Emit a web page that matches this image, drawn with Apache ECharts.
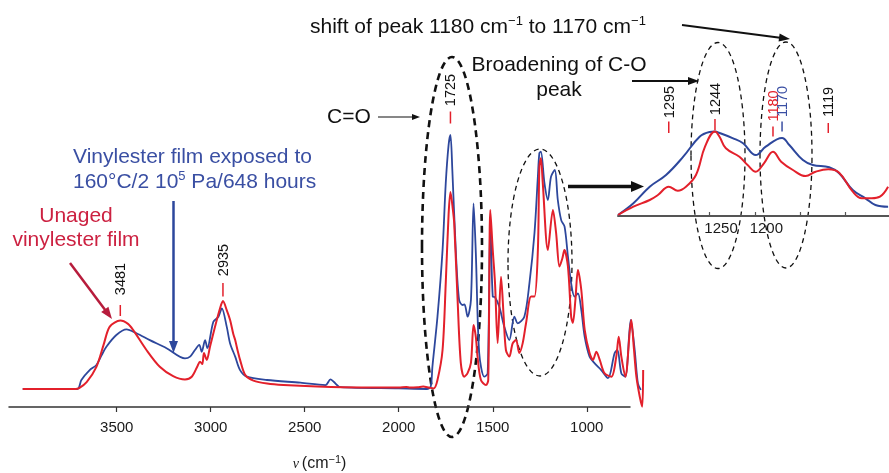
<!DOCTYPE html>
<html>
<head>
<meta charset="utf-8">
<title>FTIR spectra of vinylester films</title>
<script src="https://cdn.jsdelivr.net/npm/echarts@6/dist/echarts.min.js"></script>
<style>
  html, body { margin: 0; padding: 0; background: #ffffff; }
  #chart { width: 889px; height: 473px; }
</style>
</head>
<body>
<div id="chart"></div>
<script>
// ---- Spectrum data (wavenumber in cm-1, absorbance in arbitrary units) ----
const agedWavenumbers = [4000, 3710, 3688, 3644, 3608, 3580, 3555, 3502, 3448, 3395, 3324, 3235, 3137, 3110, 3084, 3061, 3048, 3030, 3018, 2986, 2959, 2941, 2915, 2897, 2870, 2844, 2808, 2701, 2523, 2390, 2363, 2346, 2310, 2000, 1850, 1830, 1821, 1794, 1767, 1750, 1735, 1725, 1715, 1696, 1679, 1661, 1650, 1634, 1616, 1602, 1590, 1572, 1545, 1527, 1513, 1500, 1488, 1465, 1439, 1412, 1385, 1367, 1332, 1305, 1278, 1260, 1252, 1244, 1225, 1207, 1190, 1170, 1154, 1136, 1118, 1100, 1083, 1065, 1047, 1029, 1011, 985, 959, 923, 887, 852, 837, 816, 795, 766, 745, 728, 712];
const agedAbsorbance = [0.060, 0.060, 0.090, 0.123, 0.140, 0.173, 0.201, 0.240, 0.259, 0.246, 0.223, 0.196, 0.162, 0.168, 0.190, 0.207, 0.184, 0.223, 0.196, 0.284, 0.301, 0.329, 0.268, 0.212, 0.168, 0.123, 0.101, 0.090, 0.081, 0.073, 0.092, 0.084, 0.066, 0.062, 0.060, 0.068, 0.134, 0.301, 0.523, 0.746, 0.873, 0.907, 0.790, 0.513, 0.357, 0.340, 0.342, 0.301, 0.357, 0.679, 0.513, 0.180, 0.101, 0.112, 0.623, 0.368, 0.366, 0.334, 0.268, 0.223, 0.301, 0.279, 0.301, 0.412, 0.580, 0.768, 0.846, 0.851, 0.746, 0.690, 0.768, 0.790, 0.690, 0.623, 0.601, 0.501, 0.412, 0.368, 0.379, 0.323, 0.234, 0.168, 0.146, 0.123, 0.096, 0.179, 0.190, 0.112, 0.101, 0.290, 0.190, 0.079, 0.057];

const unagedWavenumbers = [4000, 3720, 3700, 3660, 3608, 3570, 3537, 3481, 3440, 3413, 3342, 3271, 3200, 3137, 3101, 3070, 3057, 3045, 3036, 3021, 3004, 2977, 2950, 2935, 2915, 2897, 2880, 2870, 2855, 2844, 2817, 2773, 2700, 2613, 2434, 2200, 2000, 1960, 1940, 1900, 1870, 1840, 1814, 1794, 1767, 1750, 1735, 1725, 1712, 1705, 1687, 1670, 1652, 1634, 1616, 1602, 1590, 1581, 1563, 1536, 1524, 1513, 1500, 1488, 1474, 1456, 1442, 1430, 1412, 1394, 1376, 1359, 1341, 1323, 1296, 1278, 1260, 1252, 1244, 1234, 1207, 1180, 1163, 1145, 1130, 1119, 1100, 1083, 1074, 1060, 1047, 1029, 1011, 985, 967, 949, 931, 905, 869, 843, 830, 816, 795, 770, 763, 750, 736, 718, 705, 700];
const unagedAbsorbance = [0.060, 0.060, 0.063, 0.083, 0.134, 0.207, 0.268, 0.288, 0.277, 0.257, 0.190, 0.134, 0.103, 0.092, 0.101, 0.137, 0.151, 0.143, 0.180, 0.157, 0.201, 0.268, 0.330, 0.353, 0.323, 0.290, 0.243, 0.223, 0.183, 0.157, 0.107, 0.088, 0.078, 0.073, 0.068, 0.065, 0.065, 0.067, 0.065, 0.066, 0.068, 0.065, 0.062, 0.090, 0.190, 0.413, 0.640, 0.717, 0.657, 0.613, 0.357, 0.147, 0.101, 0.113, 0.147, 0.273, 0.234, 0.168, 0.090, 0.073, 0.090, 0.657, 0.523, 0.413, 0.213, 0.434, 0.301, 0.190, 0.168, 0.212, 0.223, 0.180, 0.212, 0.279, 0.368, 0.368, 0.523, 0.801, 0.829, 0.747, 0.523, 0.657, 0.580, 0.468, 0.495, 0.523, 0.468, 0.301, 0.280, 0.360, 0.457, 0.390, 0.257, 0.180, 0.157, 0.184, 0.157, 0.112, 0.101, 0.168, 0.234, 0.168, 0.101, 0.260, 0.290, 0.200, 0.101, 0.034, 0.001, 0.123];

// Expanded C-O stretching region (baseline-shifted)
const insetAgedWavenumbers = [1351, 1334, 1316, 1298, 1279, 1261, 1250, 1244, 1239, 1224, 1213, 1199, 1188, 1170, 1162, 1147, 1136, 1118, 1107, 1092, 1078, 1067, 1053];
const insetAgedAbsorbance = [0.010, 0.127, 0.293, 0.410, 0.593, 0.793, 0.840, 0.845, 0.830, 0.777, 0.727, 0.610, 0.693, 0.780, 0.710, 0.560, 0.510, 0.487, 0.427, 0.260, 0.177, 0.110, 0.093];
const insetUnagedWavenumbers = [1351, 1334, 1316, 1307, 1295, 1285, 1276, 1265, 1255, 1244, 1239, 1232, 1217, 1208, 1199, 1190, 1180, 1171, 1158, 1144, 1133, 1119, 1107, 1092, 1082, 1071, 1062, 1053];
const insetUnagedAbsorbance = [0.010, 0.093, 0.160, 0.210, 0.293, 0.253, 0.293, 0.410, 0.693, 0.845, 0.793, 0.677, 0.593, 0.510, 0.443, 0.527, 0.643, 0.543, 0.460, 0.400, 0.443, 0.467, 0.433, 0.243, 0.177, 0.177, 0.193, 0.293];

// Axis tick values
const mainTicks = [3500, 3000, 2500, 2000, 1500, 1000];
const insetTicks = [1250, 1200, 1150, 1100];
const insetTickLabels = [1250, 1200];

// Assigned band positions
const mainPeaks = [3481, 2935, 1725];
const insetPeaks = [1295, 1244, 1180, 1170, 1119];

// ---- Styling ----
const RED = '#e3202b';
const BLUE = '#2d479c';
const BLUE_TEXT = '#3a4fa3';
const CRIMSON = '#cc2141';
const CRIMSON_ARROW = '#b71c3c';
const FONT = '"Liberation Sans", Arial, Helvetica, sans-serif';

const zip = (xs, ys) => xs.map((x, i) => [x, ys[i]]);
const plainNumber = v => String(v);

// The spectra run a little past the end of the drawn axis, so the traces use
// a slightly wider plot (grid 0) sharing the same scale as the visible axis (grid 2).
const SPECTRUM_MIN = 695, AXIS_MIN = 770, AXIS_MAX = 4073;
const AXIS_LEFT = 9, AXIS_RIGHT_EDGE = 630;
const pxPerUnit = (AXIS_RIGHT_EDGE - AXIS_LEFT) / (AXIS_MAX - AXIS_MIN);
const spectrumRight = 889 - (AXIS_RIGHT_EDGE + (AXIS_MIN - SPECTRUM_MIN) * pxPerUnit);

const option = {
  animation: false,
  backgroundColor: '#ffffff',
  grid: [
    { left: AXIS_LEFT, right: spectrumRight, top: 107, bottom: 66, outerBoundsMode: 'none', containLabel: false },
    { left: 618, right: 0, top: 116, bottom: 257, outerBoundsMode: 'none', containLabel: false },
    { left: AXIS_LEFT, right: 889 - AXIS_RIGHT_EDGE, top: 107, bottom: 66, outerBoundsMode: 'none', containLabel: false }
  ],
  xAxis: [
    {
      type: 'value', gridIndex: 0, inverse: true, min: SPECTRUM_MIN, max: AXIS_MAX,
      axisLine: { show: false }, axisTick: { show: false }, axisLabel: { show: false }, splitLine: { show: false }
    },
    {
      type: 'value', gridIndex: 1, inverse: true, min: 1052, max: 1351,
      axisLine: { show: true, lineStyle: { color: '#555', width: 2 } },
      axisTick: { show: true, inside: true, customValues: insetTicks, length: 4, lineStyle: { color: '#555', width: 1.2 } },
      axisLabel: { customValues: insetTickLabels, formatter: plainNumber, fontSize: 15, color: '#1a1a1a', fontFamily: FONT, margin: 5, padding: [0, 0, 0, 23] },
      splitLine: { show: false }
    },
    {
      type: 'value', gridIndex: 2, inverse: true, min: AXIS_MIN, max: AXIS_MAX,
      axisLine: { show: true, lineStyle: { color: '#333', width: 1.5 } },
      axisTick: { show: true, customValues: mainTicks, length: 5, lineStyle: { color: '#333', width: 1.2 } },
      axisLabel: { customValues: mainTicks, formatter: plainNumber, fontSize: 15, color: '#1a1a1a', fontFamily: FONT, margin: 13 },
      splitLine: { show: false },
      name: '{it|ν}{n|(cm}{sup|−1}{n|)}',
      nameLocation: 'middle', nameGap: 47,
      nameTextStyle: {
        fontFamily: FONT, color: '#1a1a1a',
        rich: {
          it: { fontStyle: 'italic', fontSize: 14, fontFamily: 'Liberation Serif, serif', color: '#1a1a1a', padding: [0, 3, 0, 0] },
          n: { fontSize: 16, fontFamily: FONT, color: '#1a1a1a', lineHeight: 20 },
          sup: { fontSize: 11, fontFamily: FONT, color: '#1a1a1a', verticalAlign: 'top', lineHeight: 12 }
        }
      }
    }
  ],
  yAxis: [
    { type: 'value', gridIndex: 0, min: 0, max: 1, show: false },
    { type: 'value', gridIndex: 1, min: 0, max: 1, show: false },
    { type: 'value', gridIndex: 2, min: 0, max: 1, show: false }
  ],
  series: [
    {
      name: 'Aged vinylester film', type: 'line', xAxisIndex: 0, yAxisIndex: 0,
      data: zip(agedWavenumbers, agedAbsorbance), showSymbol: false, smooth: 0.3, clip: false,
      lineStyle: { color: BLUE, width: 1.8 }, itemStyle: { color: BLUE }
    },
    {
      name: 'Unaged vinylester film', type: 'line', xAxisIndex: 0, yAxisIndex: 0,
      data: zip(unagedWavenumbers, unagedAbsorbance), showSymbol: false, smooth: 0.3, clip: false,
      lineStyle: { color: RED, width: 2 }, itemStyle: { color: RED }
    },
    {
      name: 'Aged (C-O region)', type: 'line', xAxisIndex: 1, yAxisIndex: 1,
      data: zip(insetAgedWavenumbers, insetAgedAbsorbance), showSymbol: false, smooth: 0.4, clip: false,
      lineStyle: { color: BLUE, width: 2 }, itemStyle: { color: BLUE }
    },
    {
      name: 'Unaged (C-O region)', type: 'line', xAxisIndex: 1, yAxisIndex: 1,
      data: zip(insetUnagedWavenumbers, insetUnagedAbsorbance), showSymbol: false, smooth: 0.4, clip: false,
      lineStyle: { color: RED, width: 2 }, itemStyle: { color: RED }
    }
  ]
};

const chart = echarts.init(document.getElementById('chart'), null, { renderer: 'canvas' });
chart.setOption(option);

// ---- Annotation helpers ----
function arrow(x1, y1, x2, y2, color, width, headLen, headWidth) {
  const a = Math.atan2(y2 - y1, x2 - x1);
  const bx = x2 - headLen * Math.cos(a), by = y2 - headLen * Math.sin(a);
  const nx = -Math.sin(a), ny = Math.cos(a);
  return [
    { type: 'line', silent: true, shape: { x1: x1, y1: y1, x2: bx + Math.cos(a), y2: by + Math.sin(a) }, style: { stroke: color, lineWidth: width } },
    { type: 'polygon', silent: true, shape: { points: [[x2, y2], [bx + nx * headWidth / 2, by + ny * headWidth / 2], [bx - nx * headWidth / 2, by - ny * headWidth / 2]] }, style: { fill: color } }
  ];
}

function dashedEllipse(cx, cy, rx, ry, width, dash) {
  return { type: 'ellipse', silent: true, shape: { cx: cx, cy: cy, rx: rx, ry: ry }, style: { fill: 'none', stroke: '#111', lineWidth: width, lineDash: dash } };
}

function text(x, y, str, color, opts) {
  return {
    type: 'text', silent: true, x: x, y: y,
    style: Object.assign({ text: str, fill: color, fontSize: 21, fontFamily: FONT, textAlign: 'left', textVerticalAlign: 'middle' }, opts || {})
  };
}

// vertical band label with its short marker underneath
function bandLabel(gridIndex, wn, textY, tickTop, tickBottom, textColor, tickColor) {
  const x = chart.convertToPixel({ gridIndex: gridIndex }, [wn, 0])[0];
  return [
    { type: 'line', silent: true, shape: { x1: x, y1: tickTop, x2: x, y2: tickBottom }, style: { stroke: tickColor, lineWidth: 1.5 } },
    {
      type: 'text', silent: true, x: x + 1, y: textY, rotation: Math.PI / 2,
      style: { text: String(wn), fill: textColor, fontSize: 14.5, fontFamily: FONT, textAlign: 'center', textVerticalAlign: 'middle' }
    }
  ];
}

const supRich = {
  sup: { fontSize: 13, fontFamily: FONT, verticalAlign: 'top', lineHeight: 13 },
  n: { fontSize: 21, fontFamily: FONT, lineHeight: 24 }
};

const elements = [];

// dashed outlines around the carbonyl and C-O bands
elements.push(dashedEllipse(452, 247, 30, 190, 2.6, [7, 5]));
elements.push(dashedEllipse(540, 262.5, 32, 113.5, 1.3, [5, 4]));
elements.push(dashedEllipse(718, 155.5, 27, 113, 1.3, [5, 4]));
elements.push(dashedEllipse(786, 155, 26, 113, 1.3, [5, 4]));

// band labels
const mainLayout = { 3481: [279, 305, 316], 2935: [260, 283, 296.5], 1725: [90, 111.5, 123.5] };
mainPeaks.forEach(wn => {
  const l = mainLayout[wn];
  elements.push(...bandLabel(0, wn, l[0], l[1], l[2], '#111', RED));
});
const insetLayout = {
  1295: [102, 121.5, 133, '#111', RED],
  1244: [99, 119, 130, '#111', RED],
  1180: [106, 126.5, 136.5, RED, RED],
  1170: [101.5, 121.5, 131.5, BLUE_TEXT, BLUE_TEXT],
  1119: [102, 123, 133, '#111', RED]
};
insetPeaks.forEach(wn => {
  const l = insetLayout[wn];
  elements.push(...bandLabel(1, wn, l[0], l[1], l[2], l[3], l[4]));
});

// captions
elements.push(text(310, 27, '{n|shift of peak 1180 cm}{sup|−1}{n| to 1170 cm}{sup|−1}', '#111', { rich: supRich }));
elements.push(text(559, 77.5, 'Broadening of C-O\npeak', '#111', { textAlign: 'center', lineHeight: 25 }));
elements.push(text(327, 117, 'C=O', '#111'));
elements.push(text(73, 157.5, 'Vinylester film exposed to', BLUE_TEXT));
elements.push(text(73, 182, '{n|160°C/2 10}{sup|5}{n| Pa/648 hours}', BLUE_TEXT, { rich: supRich }));
elements.push(text(76, 228, 'Unaged\nvinylester film', CRIMSON, { textAlign: 'center', lineHeight: 24 }));

// pointers
elements.push(...arrow(682, 25, 790, 39, '#111', 2, 11, 8));
elements.push(...arrow(632, 81, 699, 81, '#111', 2, 11, 8));
elements.push(...arrow(378, 117, 420, 117, '#111', 1.2, 8, 6));
elements.push(...arrow(568, 186.5, 644, 186.5, '#111', 3.5, 13, 11));
elements.push(...arrow(173.5, 201, 173.5, 353, BLUE, 2.5, 12, 9));
elements.push(...arrow(70, 263, 112, 319, CRIMSON_ARROW, 2.5, 12, 9));

chart.setOption({ graphic: { elements: elements } });
</script>
</body>
</html>
